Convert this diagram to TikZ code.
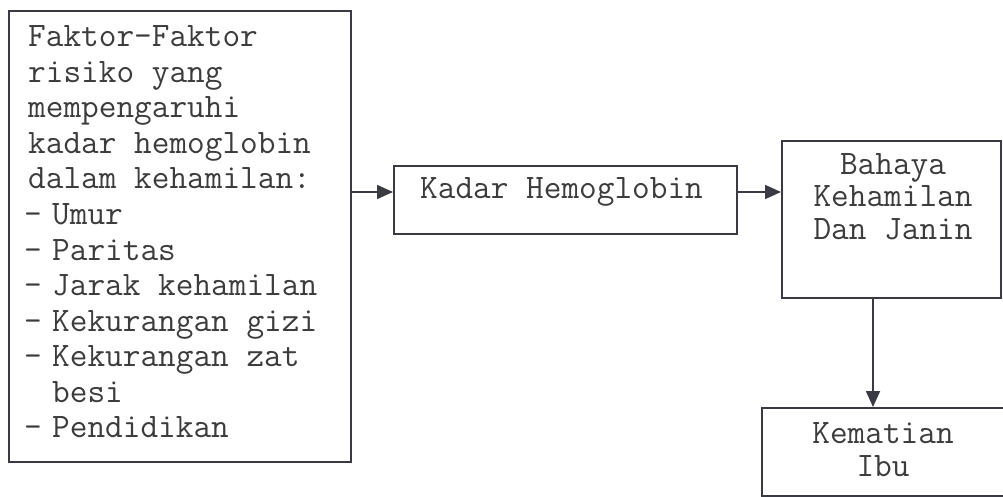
\documentclass[tikz,border=0pt]{standalone}
\usetikzlibrary{arrows.meta}
\definecolor{ink}{HTML}{3A3A44}
\definecolor{txt}{HTML}{3C3C3C}
\tikzset{
  box/.style={draw=ink, line width=1.8pt, anchor=north west, inner sep=0pt},
  txt/.style={text=txt, inner sep=0pt, font=\ttfamily\fontsize{34.3}{35.5}\selectfont},
  arr/.style={draw=ink, line width=1.8pt, -{Triangle[length=16pt,width=14pt]}}
}
\begin{document}
\begin{tikzpicture}[x=1pt,y=1pt]
\useasboundingbox (0,0) rectangle (1003,-497);
\clip (0,0) rectangle (1003,-497);
% boxes
\node[box, minimum width=342pt, minimum height=451pt] (left) at (8,-10) {};
\node[box, minimum width=343pt, minimum height=68pt] (kadar) at (393,-165) {};
\node[box, minimum width=219pt, minimum height=157pt] (bahaya) at (781,-140) {};
\node[box, minimum width=260pt, minimum height=88pt] (kematian) at (761,-407) {};
% left text
\node[txt, anchor=base west] (t1) at (28,-47) {Faktor-Faktor};
\node[txt, anchor=base west] (t2) at (28,-82.5) {risiko yang};
\node[txt, anchor=base west] (t3) at (28,-118) {mempengaruhi};
\node[txt, anchor=base west] (t4) at (28,-153.5) {kadar hemoglobin};
\node[txt, anchor=base west] (t5) at (28,-189) {dalam kehamilan:};
\foreach \i/\w/\y in {1/Umur/-224.5, 2/Paritas/-260, 3/Jarak kehamilan/-295.5, 4/Kekurangan gizi/-331, 5/Kekurangan zat/-366.5, 6/besi/-402, 7/Pendidikan/-437.5}{
  \node[txt, anchor=base west] (w\i) at (52,\y) {\w};
}
\foreach \i/\y in {1/-224.5, 2/-260, 3/-295.5, 4/-331, 5/-366.5, 7/-437.5}{
  \node[txt, anchor=base west] (d\i) at (24,\y) {-};
}
% other texts
\node[txt, anchor=base west] (tk) at (420,-198) {Kadar Hemoglobin};
\node[txt, anchor=base] (tb1) at (893,-175) {Bahaya};
\node[txt, anchor=base] (tb2) at (893,-207) {Kehamilan};
\node[txt, anchor=base] (tb3) at (893,-239) {Dan Janin};
\node[txt, anchor=base] (tm1) at (883,-443) {Kematian};
\node[txt, anchor=base] (tm2) at (883,-476) {Ibu};
% arrows
\draw[arr] (left.east |- 0,-192) -- (kadar.west |- 0,-192);
\draw[arr] (kadar.east |- 0,-192) -- (bahaya.west |- 0,-192);
\draw[arr] (bahaya.south -| 873,0) -- (kematian.north -| 873,0);
\end{tikzpicture}
\end{document}
